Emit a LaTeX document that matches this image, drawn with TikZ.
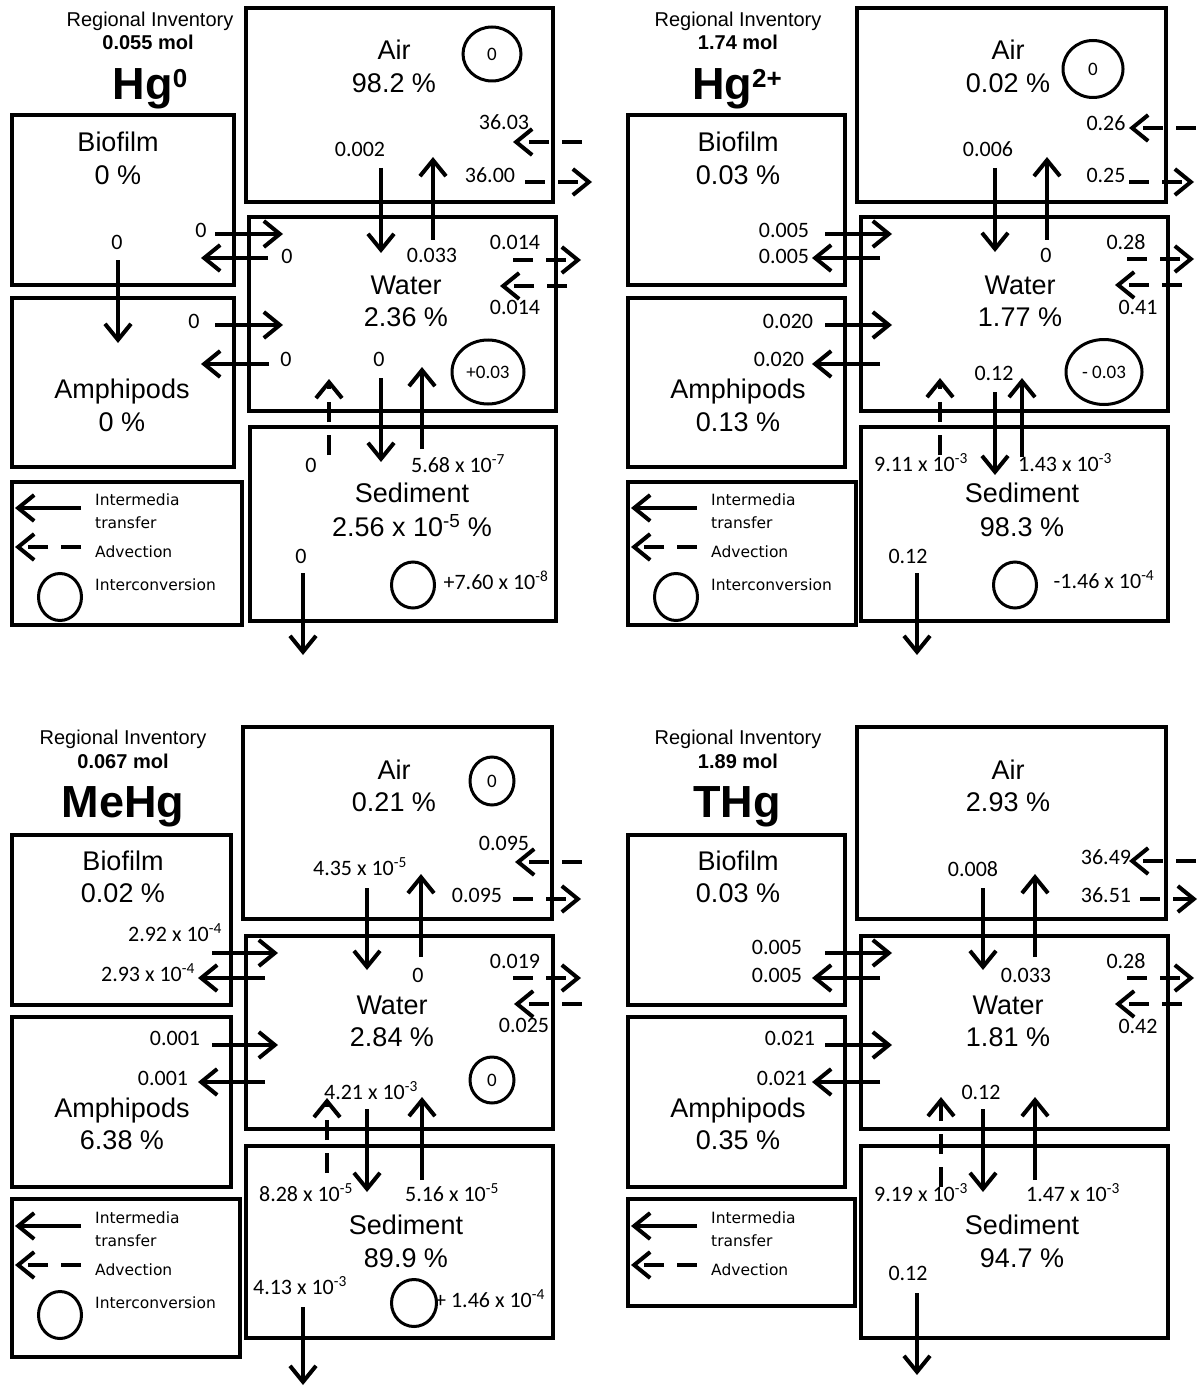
\documentclass[tikz,border=0pt]{standalone}
\usepackage{fontspec}
\setmainfont{Liberation Sans}
\newfontfamily\numfont{Carlito}
\newfontfamily\keyfont{DejaVu Sans}
\usetikzlibrary{arrows.meta,fit,shapes.geometric}

\tikzset{
  compbox/.style={draw, line width=4pt, inner sep=0pt},
  medium/.style={font=\fontsize{27}{32}\selectfont, text height=19pt, text depth=0pt, inner sep=0pt},
  inventory/.style={font=\fontsize{20}{24}\selectfont, text height=14pt, text depth=0pt, inner sep=0pt},
  amount/.style={inventory, font=\bfseries\fontsize{20}{24}\selectfont},
  species/.style={font=\bfseries\fontsize{45}{50}\selectfont, text height=32pt, text depth=0pt, inner sep=0pt},
  flux/.style={font=\numfont\fontsize{22}{26}\selectfont, text height=14pt, text depth=0pt, inner sep=0pt},
  keytext/.style={font=\keyfont\fontsize{15.5}{18}\selectfont, text height=11pt, text depth=0pt, inner sep=0pt, anchor=west},
  conv/.style={draw, ellipse, line width=3pt, inner sep=0pt, font=\numfont\fontsize{19}{22}\selectfont},
  flow/.style={line width=4pt, -{Straight Barb[length=16pt,width=26pt]}},
  adv/.style={flow, dash pattern=on 20pt off 13pt},
}

\begin{document}
\begin{tikzpicture}[x=1pt, y=-1pt]
    \useasboundingbox (0,0) rectangle (1199,1388);

    % Hg0
    \node[inventory] (hgz-reg) at (150,20) {Regional Inventory};
    \node[amount] (hgz-mol) at (148,43) {0.055 mol};
    \node[species] (hgz-sp) at (150,84) {Hg\raisebox{12pt}{\fontsize{26}{26}\selectfont 0}};
    \node[compbox, fit={(246,8) (553,202)}] (hgz-air) {};
    \node[compbox, fit={(249,217) (556,411)}] (hgz-water) {};
    \node[compbox, fit={(12,115) (234,285)}] (hgz-bio) {};
    \node[compbox, fit={(12,298) (234,467)}] (hgz-amph) {};
    \node[compbox, fit={(250,427) (556,621)}] (hgz-sed) {};
    \node[compbox, fit={(12,482) (242,625)}] (hgz-key) {};
    \foreach \x/\y/\t [count=\i] in {394/50/Air, 394/83/98.2 \%, 118/142/Biofilm, 118/175/0 \%,
        406/285/Water, 406/317/2.36 \%, 122/389/Amphipods, 122/422/0 \%,
        412/493/Sediment, 412/527/2.56 x 10\textsuperscript{-5} \%}
        \node[medium] (hgz-m\i) at (\x,\y) {\t};
    \foreach \x/\y/\t [count=\i] in {360/150/0.002, 432/255/0.033, 504/123/36.03, 490/176/36.00,
        515/242/0.014, 515/307/0.014, 201/230/0, 287/256/0, 117/242/0, 194/321/0, 286/359/0,
        379/359/0, 458/465/5.68 x 10\textsuperscript{-7}, 311/465/0, 301/556/0,
        496/582/+7.60 x 10\textsuperscript{-8}}
        \node[flux] (hgz-q\i) at (\x,\y) {\t};
    \foreach \sx/\sy/\ex/\ey [count=\i] in {381/168/381/253, 433/240/433/157, 215/234/283/234,
        268/258/201/258, 118/260/118/343, 215/325/283/325, 269/364/201/364, 381/378/381/462,
        422/449/422/367, 303/573/303/655} {
        \coordinate (hgz-s\i) at (\sx,\sy);
        \coordinate (hgz-e\i) at (\ex,\ey);
        \draw[flow] (hgz-s\i) -- (hgz-e\i);
    }
    \foreach \sx/\sy/\ex/\ey [count=\i] in {582/142/513/142, 525/182/592/182, 513/260/581/260,
        567/286/500/286, 329/455/329/379} {
        \coordinate (hgz-as\i) at (\sx,\sy);
        \coordinate (hgz-ae\i) at (\ex,\ey);
        \draw[adv] (hgz-as\i) -- (hgz-ae\i);
    }
    \node[conv, minimum width=58pt, minimum height=54pt] (hgz-cair) at (492,54) {0};
    \node[conv, minimum width=72pt, minimum height=64pt] (hgz-cwater) at (488,372) {+0.03};
    \node[conv, minimum width=43pt, minimum height=46pt] (hgz-csed) at (413,585) {};

    % Hg2+
    \node[inventory] (hgi-reg) at (738,20) {Regional Inventory};
    \node[amount] (hgi-mol) at (738,43) {1.74 mol};
    \node[species] (hgi-sp) at (737,84) {Hg\raisebox{12pt}{\fontsize{26}{26}\selectfont 2+}};
    \node[compbox, fit={(857,8) (1166,202)}] (hgi-air) {};
    \node[compbox, fit={(861,217) (1168,411)}] (hgi-water) {};
    \node[compbox, fit={(628,115) (845,285)}] (hgi-bio) {};
    \node[compbox, fit={(628,298) (845,467)}] (hgi-amph) {};
    \node[compbox, fit={(861,427) (1168,621)}] (hgi-sed) {};
    \node[compbox, fit={(628,482) (856,625)}] (hgi-key) {};
    \foreach \x/\y/\t [count=\i] in {1008/50/Air, 1008/83/0.02 \%, 738/142/Biofilm, 738/175/0.03 \%,
        1020/285/Water, 1020/317/1.77 \%, 738/389/Amphipods, 738/422/0.13 \%,
        1022/493/Sediment, 1022/527/98.3 \%}
        \node[medium] (hgi-m\i) at (\x,\y) {\t};
    \foreach \x/\y/\t [count=\i] in {1106/124/0.26, 1106/176/0.25, 988/150/0.006, 1046/255/0,
        1126/242/0.28, 1138/307/0.41, 784/230/0.005, 784/256/0.005, 788/321/0.020, 779/359/0.020,
        994/373/0.12, 1065/464/1.43 x 10\textsuperscript{-3}, 921/464/9.11 x 10\textsuperscript{-3},
        908/556/0.12, 1104/581/-1.46 x 10\textsuperscript{-4}}
        \node[flux] (hgi-q\i) at (\x,\y) {\t};
    \foreach \sx/\sy/\ex/\ey [count=\i] in {995/168/995/252, 1047/240/1047/157, 825/234/892/234,
        880/258/812/258, 825/325/892/325, 880/364/812/364, 995/392/995/475, 1022/457/1022/378,
        917/573/917/655} {
        \coordinate (hgi-s\i) at (\sx,\sy);
        \coordinate (hgi-e\i) at (\ex,\ey);
        \draw[flow] (hgi-s\i) -- (hgi-e\i);
    }
    \foreach \sx/\sy/\ex/\ey [count=\i] in {1196/128/1129/128, 1129/182/1194/182, 1127/259/1194/259,
        1182/285/1115/285, 940/455/940/378} {
        \coordinate (hgi-as\i) at (\sx,\sy);
        \coordinate (hgi-ae\i) at (\ex,\ey);
        \draw[adv] (hgi-as\i) -- (hgi-ae\i);
    }
    \node[conv, minimum width=60pt, minimum height=57pt] (hgi-cair) at (1093,69) {0};
    \node[conv, minimum width=76pt, minimum height=65pt] (hgi-cwater) at (1104,372) {- 0.03};
    \node[conv, minimum width=43pt, minimum height=46pt] (hgi-csed) at (1015,585) {};

    % MeHg
    \node[inventory] (mehg-reg) at (123,737) {Regional Inventory};
    \node[amount] (mehg-mol) at (123,761) {0.067 mol};
    \node[species] (mehg-sp) at (123,801) {MeHg};
    \node[compbox, fit={(243,727) (552,919)}] (mehg-air) {};
    \node[compbox, fit={(246,936) (553,1129)}] (mehg-water) {};
    \node[compbox, fit={(12,835) (231,1005)}] (mehg-bio) {};
    \node[compbox, fit={(12,1017) (231,1187)}] (mehg-amph) {};
    \node[compbox, fit={(246,1146) (553,1338)}] (mehg-sed) {};
    \node[compbox, fit={(12,1199) (240,1357)}] (mehg-key) {};
    \foreach \x/\y/\t [count=\i] in {394/770/Air, 394/802/0.21 \%, 123/861/Biofilm, 123/893/0.02 \%,
        392/1005/Water, 392/1037/2.84 \%, 122/1108/Amphipods, 122/1140/6.38 \%,
        406/1225/Sediment, 406/1258/89.9 \%}
        \node[medium] (mehg-m\i) at (\x,\y) {\t};
    \foreach \x/\y/\t [count=\i] in {504/843/0.095, 477/895/0.095, 360/868/4.35 x 10\textsuperscript{-5},
        418/975/0, 515/961/0.019, 524/1025/0.025, 175/934/2.92 x 10\textsuperscript{-4},
        148/974/2.93 x 10\textsuperscript{-4}, 175/1038/0.001, 163/1078/0.001,
        371/1092/4.21 x 10\textsuperscript{-3}, 452/1194/5.16 x 10\textsuperscript{-5},
        306/1194/8.28 x 10\textsuperscript{-5}, 300/1287/4.13 x 10\textsuperscript{-3},
        490/1300/+ 1.46 x 10\textsuperscript{-4}}
        \node[flux] (mehg-q\i) at (\x,\y) {\t};
    \foreach \sx/\sy/\ex/\ey [count=\i] in {367/888/367/970, 421/957/421/874, 212/953/278/953,
        265/978/198/978, 212/1045/278/1045, 265/1082/198/1082, 367/1109/367/1192,
        422/1180/422/1097, 303/1307/303/1385} {
        \coordinate (mehg-s\i) at (\sx,\sy);
        \coordinate (mehg-e\i) at (\ex,\ey);
        \draw[flow] (mehg-s\i) -- (mehg-e\i);
    }
    \foreach \sx/\sy/\ex/\ey [count=\i] in {582/862/515/862, 513/899/581/899, 513/978/581/978,
        582/1004/514/1004, 327/1173/327/1098} {
        \coordinate (mehg-as\i) at (\sx,\sy);
        \coordinate (mehg-ae\i) at (\ex,\ey);
        \draw[adv] (mehg-as\i) -- (mehg-ae\i);
    }
    \node[conv, minimum width=44pt, minimum height=48pt] (mehg-cair) at (492,781) {0};
    \node[conv, minimum width=44pt, minimum height=46pt] (mehg-cwater) at (492,1080) {0};
    \node[conv, minimum width=45pt, minimum height=47pt] (mehg-csed) at (414,1303) {};

    % THg
    \node[inventory] (thg-reg) at (738,737) {Regional Inventory};
    \node[amount] (thg-mol) at (738,761) {1.89 mol};
    \node[species] (thg-sp) at (737,801) {THg};
    \node[compbox, fit={(857,727) (1166,919)}] (thg-air) {};
    \node[compbox, fit={(861,936) (1168,1129)}] (thg-water) {};
    \node[compbox, fit={(628,835) (845,1005)}] (thg-bio) {};
    \node[compbox, fit={(628,1017) (845,1187)}] (thg-amph) {};
    \node[compbox, fit={(861,1146) (1168,1338)}] (thg-sed) {};
    \node[compbox, fit={(628,1199) (855,1306)}] (thg-key) {};
    \foreach \x/\y/\t [count=\i] in {1008/770/Air, 1008/802/2.93 \%, 738/861/Biofilm, 738/893/0.03 \%,
        1008/1005/Water, 1008/1037/1.81 \%, 738/1108/Amphipods, 738/1140/0.35 \%,
        1022/1225/Sediment, 1022/1258/94.7 \%}
        \node[medium] (thg-m\i) at (\x,\y) {\t};
    \foreach \x/\y/\t [count=\i] in {1106/857/36.49, 1106/895/36.51, 973/869/0.008, 1026/975/0.033,
        1126/961/0.28, 1138/1026/0.42, 777/947/0.005, 777/975/0.005, 790/1038/0.021, 782/1078/0.021,
        981/1092/0.12, 1073/1194/1.47 x 10\textsuperscript{-3}, 921/1194/9.19 x 10\textsuperscript{-3},
        908/1273/0.12}
        \node[flux] (thg-q\i) at (\x,\y) {\t};
    \foreach \sx/\sy/\ex/\ey [count=\i] in {983/888/983/970, 1035/957/1035/874, 825/953/892/953,
        880/978/812/978, 825/1045/892/1045, 880/1082/812/1082, 983/1109/983/1192,
        1035/1180/1035/1097, 917/1293/917/1375} {
        \coordinate (thg-s\i) at (\sx,\sy);
        \coordinate (thg-e\i) at (\ex,\ey);
        \draw[flow] (thg-s\i) -- (thg-e\i);
    }
    \foreach \sx/\sy/\ex/\ey [count=\i] in {1196/861/1129/861, 1140/899/1197/899, 1127/978/1194/978,
        1182/1004/1115/1004, 941/1187/941/1097} {
        \coordinate (thg-as\i) at (\sx,\sy);
        \coordinate (thg-ae\i) at (\ex,\ey);
        \draw[adv] (thg-as\i) -- (thg-ae\i);
    }

    % Legends
    \foreach \k/\dx/\dy in {1/0/0, 2/616/0, 3/0/718, 4/616/718} {
        \begin{scope}[shift={(\dx,\dy)}]
            \coordinate (key\k-a) at (81,508);
            \coordinate (key\k-b) at (15,508);
            \coordinate (key\k-c) at (81,547);
            \coordinate (key\k-d) at (15,547);
            \draw[flow] (key\k-a) -- (key\k-b);
            \draw[adv] (key\k-c) -- (key\k-d);
            \node[keytext] (key\k-t1) at (95,500) {Intermedia};
            \node[keytext] (key\k-t2) at (95,523) {transfer};
            \node[keytext] (key\k-t3) at (95,552) {Advection};
            \ifnum\k<4
                \node[keytext] (key\k-t4) at (95,585) {Interconversion};
                \node[conv, minimum width=43pt, minimum height=47pt] (key\k-cv) at (60,597) {};
            \fi
        \end{scope}
    }
\end{tikzpicture}
\end{document}
